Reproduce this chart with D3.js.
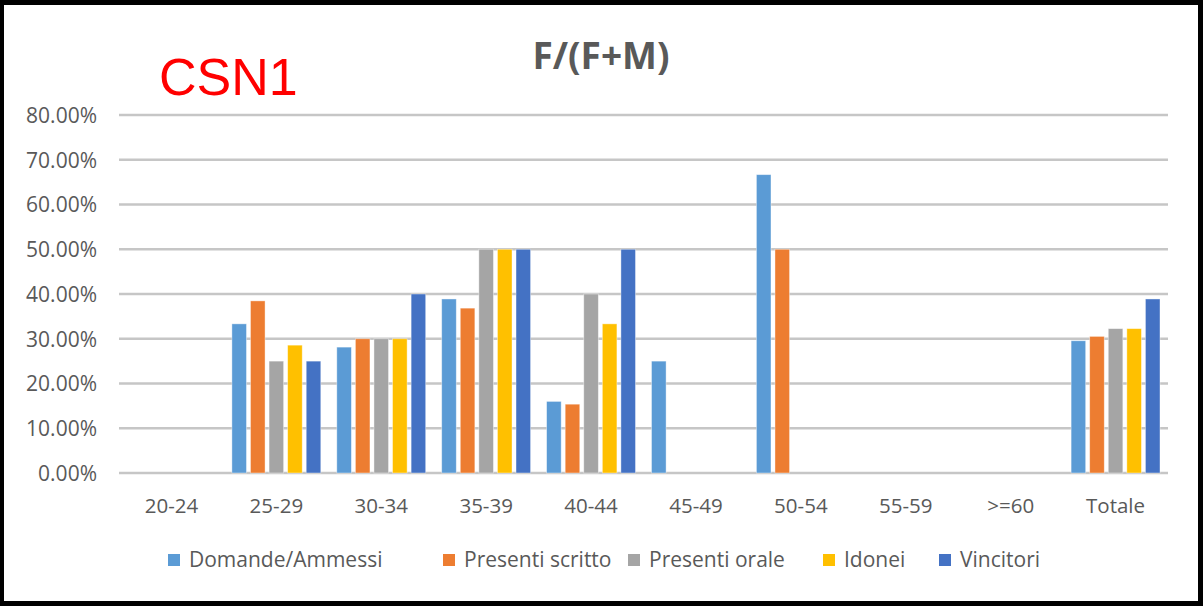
<!DOCTYPE html>
<html>
<head>
<meta charset="utf-8">
<script src="https://cdn.jsdelivr.net/npm/d3@7"></script>
<style>
  html, body { margin: 0; padding: 0; background: #000; }
  svg { display: block; }
</style>
</head>
<body>
<svg id="chart" width="1203" height="606"></svg>
<script>
// Age bands and totals along the x axis
const categories = ["20-24", "25-29", "30-34", "35-39", "40-44", "45-49", "50-54", "55-59", ">=60", "Totale"];
// Share of women F/(F+M) at each selection stage, in percent (null = no value)
const domandeAmmessi   = [null, 33.33, 28.13, 38.89, 16.0, 25.0, 66.67, null, null, 29.55];
const presentiScritto  = [null, 38.46, 30.0, 36.84, 15.38, null, 50.0, null, null, 30.53];
const presentiOrale    = [null, 25.0, 30.0, 50.0, 40.0, null, null, null, null, 32.26];
const idonei           = [null, 28.57, 30.0, 50.0, 33.33, null, null, null, null, 32.26];
const vincitori        = [null, 25.0, 40.0, 50.0, 50.0, null, null, null, null, 38.89];
const seriesNames = ["Domande/Ammessi", "Presenti scritto", "Presenti orale", "Idonei", "Vincitori"];
const seriesColors = ["#5B9BD5", "#ED7D31", "#A5A5A5", "#FFC000", "#4472C4"];
const yTicks = [0, 10, 20, 30, 40, 50, 60, 70, 80];

const seriesValues = [domandeAmmessi, presentiScritto, presentiOrale, idonei, vincitori];

const svg = d3.select("#chart");

// White card inside the black frame
svg.append("rect").attr("x", 4).attr("y", 5).attr("width", 1194).attr("height", 596).attr("fill", "#fff");

const plot = { left: 119, right: 1168, top: 115, bottom: 473 };

const x = d3.scaleBand().domain(categories).range([plot.left, plot.right]).paddingInner(0).paddingOuter(0);
const inner = d3.scaleBand().domain(seriesNames).range([8, x.bandwidth() - 8]).paddingInner(0.215).paddingOuter(0);
const y = d3.scaleLinear().domain([0, 80]).range([plot.bottom, plot.top]);

const fontUI = "'Open Sans', 'Noto Sans', sans-serif";

// Horizontal gridlines
svg.append("g").selectAll("line").data(yTicks).join("line")
  .attr("x1", plot.left).attr("x2", plot.right)
  .attr("y1", d => y(d)).attr("y2", d => y(d))
  .attr("stroke", "#c6c6c6").attr("stroke-width", 2.6);

// Y axis tick labels
const yAxis = d3.axisLeft(y).tickValues(yTicks).tickSize(0).tickPadding(0)
  .tickFormat(d => d.toFixed(2) + "%");
const yg = svg.append("g").attr("transform", `translate(${plot.left - 22},0)`).call(yAxis);
yg.select(".domain").remove();
yg.selectAll("text").attr("fill", "#595959").style("font-family", fontUI).style("font-size", "21px")
  .attr("dy", "0.35em");

// X axis category labels
const xAxis = d3.axisBottom(x).tickSize(0).tickPadding(0);
const xg = svg.append("g").attr("transform", `translate(0,${plot.bottom + 33})`).call(xAxis);
xg.select(".domain").remove();
xg.selectAll("text").attr("fill", "#595959").style("font-family", fontUI).style("font-size", "20.5px")
  .attr("dy", "0.35em").attr("y", 0);

// Bars
const barData = [];
categories.forEach((c, i) => {
  seriesNames.forEach((s, j) => {
    const v = seriesValues[j][i];
    if (v !== null) barData.push({ cat: c, series: s, value: v, color: seriesColors[j] });
  });
});
svg.append("g").selectAll("rect").data(barData).join("rect")
  .attr("x", d => x(d.cat) + inner(d.series))
  .attr("width", inner.bandwidth())
  .attr("y", d => y(d.value))
  .attr("height", d => y(0) - y(d.value))
  .attr("fill", d => d.color)
  .attr("stroke", "#ffffff").attr("stroke-opacity", 0.5).attr("stroke-width", 0.8);

// Title
svg.append("text").attr("x", 601).attr("y", 69).attr("text-anchor", "middle")
  .attr("fill", "#595959").style("font-family", fontUI).style("font-weight", "bold").style("font-size", "37px")
  .text("F/(F+M)");

// Committee label
svg.append("text").attr("x", 159).attr("y", 95)
  .attr("fill", "#ff0000").style("font-family", "'Liberation Sans', Arial, sans-serif").style("font-size", "52px")
  .text("CSN1");

// Legend
const legendX = [168, 443, 628, 823, 939];
const lg = svg.append("g").selectAll("g").data(seriesNames).join("g")
  .attr("transform", (d, i) => `translate(${legendX[i]},560)`);
lg.append("rect").attr("x", 0).attr("y", -6).attr("width", 12).attr("height", 12)
  .attr("fill", (d, i) => seriesColors[i]);
lg.append("text").attr("x", 21).attr("y", 0).attr("dy", "0.35em")
  .attr("fill", "#595959").style("font-family", fontUI).style("font-size", "21px")
  .text(d => d);
</script>
</body>
</html>
